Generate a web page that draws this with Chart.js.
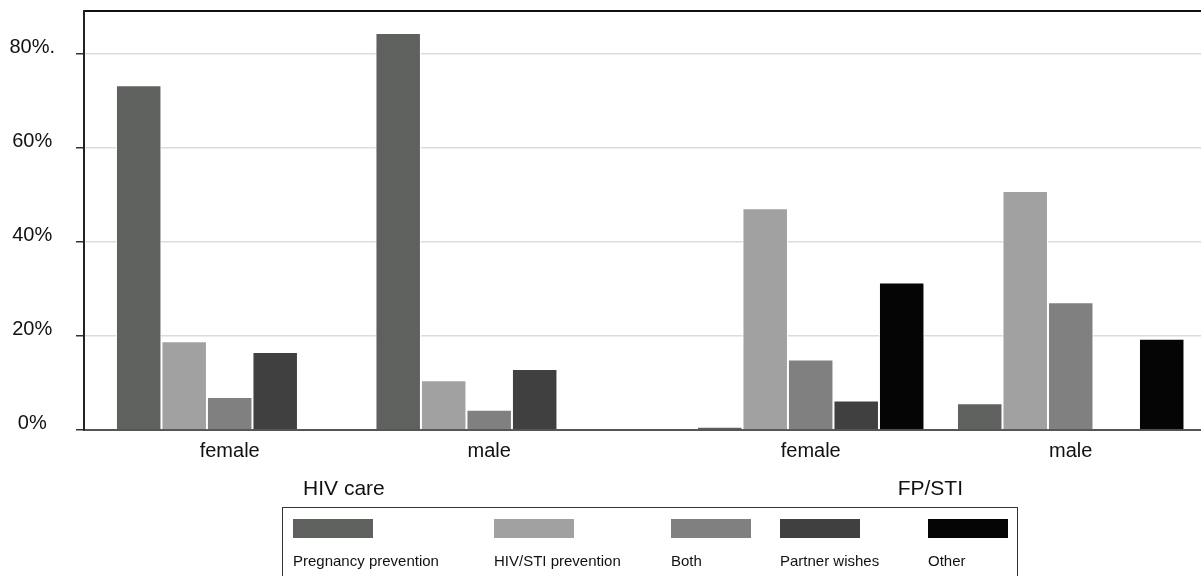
<!DOCTYPE html>
<html>
<head>
<meta charset="utf-8">
<script src="https://cdn.jsdelivr.net/npm/chart.js@4.4.1/dist/chart.umd.min.js"></script>
<style>
  html, body { margin: 0; padding: 0; background: #fff; }
  #wrap { position: relative; width: 1201px; height: 576px; overflow: hidden; font-family: "Liberation Sans", Arial, sans-serif; }
  #chartBox { position: absolute; left: 0; top: 0; width: 1201px; height: 576px; }
  #legend { position: absolute; left: 282px; top: 507px; width: 736px; height: 90px; border: 1px solid #333; box-sizing: border-box;
            display: grid; grid-template-columns: 201px 177px 109px 148px auto; padding-left: 10px; }
  .li .sw { width: 80px; height: 19px; margin-top: 11px; }
  .li .tx { font-size: 15px; color: #111; margin-top: 14px; white-space: nowrap; }
</style>
</head>
<body>
<div id="wrap">
  <div id="chartBox"><canvas id="c"></canvas></div>
  <div id="legend"></div>
</div>
<script>
// ---- data ----
const categories = ['female', 'male', 'female', 'male'];
const groupLabels = ['HIV care', 'FP/STI'];
const seriesNames = ['Pregnancy prevention', 'HIV/STI prevention', 'Both', 'Partner wishes', 'Other'];
const pregnancyPrevention = [73.4, 84.5, 0.7, 5.7];
const hivStiPrevention = [18.9, 10.6, 47.2, 50.9];
const both = [7.0, 4.3, 15.0, 27.2];
const partnerWishes = [16.6, 13.0, 6.3, 0];
const other = [0, 0, 31.4, 19.4];
const yTickValues = [0, 20, 40, 60, 80];
const yTickLabels = ['0%', '20%', '40%', '60%', '80%.'];

// ---- layout (positions of groups along the x scale) ----
const groupPos = [0, 1, 2.239, 3.241];
const groupLabelPos = [0.44, 2.70];
const xMin = -0.5615, xMax = 3.743;
const colors = ['#5f615f', '#a1a1a1', '#808080', '#404040', '#050505'];
const FONT = '"Liberation Sans", Arial, sans-serif';

const seriesValues = [pregnancyPrevention, hivStiPrevention, both, partnerWishes, other];
const datasets = seriesNames.map((name, i) => ({
  label: name,
  data: seriesValues[i].map((v, j) => ({ x: groupPos[j], y: v })),
  backgroundColor: colors[i],
  borderColor: '#ffffff',
  borderWidth: 1,
  borderSkipped: 'bottom',
  categoryPercentage: 0.8767,
  barPercentage: 1.0,
  xAxisID: 'x',
  yAxisID: 'y'
}));

const chart = new Chart(document.getElementById('c'), {
  type: 'bar',
  data: { datasets },
  options: {
    responsive: true,
    maintainAspectRatio: false,
    animation: false,
    layout: { padding: { top: 11, bottom: 63, left: 0, right: 0 } },
    plugins: { legend: { display: false }, tooltip: { enabled: false } },
    scales: {
      x: {
        type: 'linear', position: 'bottom', weight: 0, offset: false,
        min: xMin, max: xMax,
        grid: { display: false, drawTicks: false },
        border: { display: true, color: '#555555', width: 2 },
        afterBuildTicks: s => { s.ticks = groupPos.map(v => ({ value: v })); },
        ticks: {
          padding: 9, color: '#111', font: { family: FONT, size: 20 },
          maxRotation: 0, autoSkip: false,
          callback: (v, i) => categories[i]
        },
        afterFit: s => { s.height = 33; s.paddingLeft = 0; s.paddingRight = 0; }
      },
      x2: {
        type: 'linear', position: 'bottom', weight: 1, offset: false,
        min: xMin, max: xMax,
        grid: { display: false, drawTicks: false },
        border: { display: false },
        afterBuildTicks: s => { s.ticks = groupLabelPos.map(v => ({ value: v })); },
        ticks: {
          padding: 14, color: '#111', font: { family: FONT, size: 21 },
          maxRotation: 0, autoSkip: false,
          callback: (v, i) => groupLabels[i]
        },
        afterFit: s => { s.height = 50; s.paddingLeft = 0; s.paddingRight = 0; }
      },
      xTop: {
        type: 'linear', position: 'top', offset: false,
        min: xMin, max: xMax,
        grid: { display: false, drawTicks: false },
        border: { display: true, color: '#111111', width: 2 },
        ticks: { display: false },
        afterFit: s => { s.height = 0; s.paddingLeft = 0; s.paddingRight = 0; }
      },
      y: {
        type: 'linear', position: 'left',
        min: 0, max: 89.2,
        afterBuildTicks: s => { s.ticks = yTickValues.map(v => ({ value: v })); },
        grid: { color: '#dcdcdc', lineWidth: 1.5, tickColor: '#333333', tickLength: 8, drawTicks: true },
        border: { display: true, color: '#222222', width: 2 },
        ticks: {
          padding: 21, crossAlign: 'center', labelOffset: -7,
          color: '#111', font: { family: FONT, size: 20 },
          callback: (v, i) => yTickLabels[i]
        },
        afterFit: s => { s.width = 84; s.paddingTop = 0; s.paddingBottom = 0; }
      }
    }
  }
});

// HTML legend built from the chart's datasets
const leg = document.getElementById('legend');
chart.data.datasets.forEach(ds => {
  const item = document.createElement('div');
  item.className = 'li';
  const sw = document.createElement('div');
  sw.className = 'sw';
  sw.style.background = ds.backgroundColor;
  const tx = document.createElement('div');
  tx.className = 'tx';
  tx.textContent = ds.label;
  item.appendChild(sw);
  item.appendChild(tx);
  leg.appendChild(item);
});
</script>
</body>
</html>
